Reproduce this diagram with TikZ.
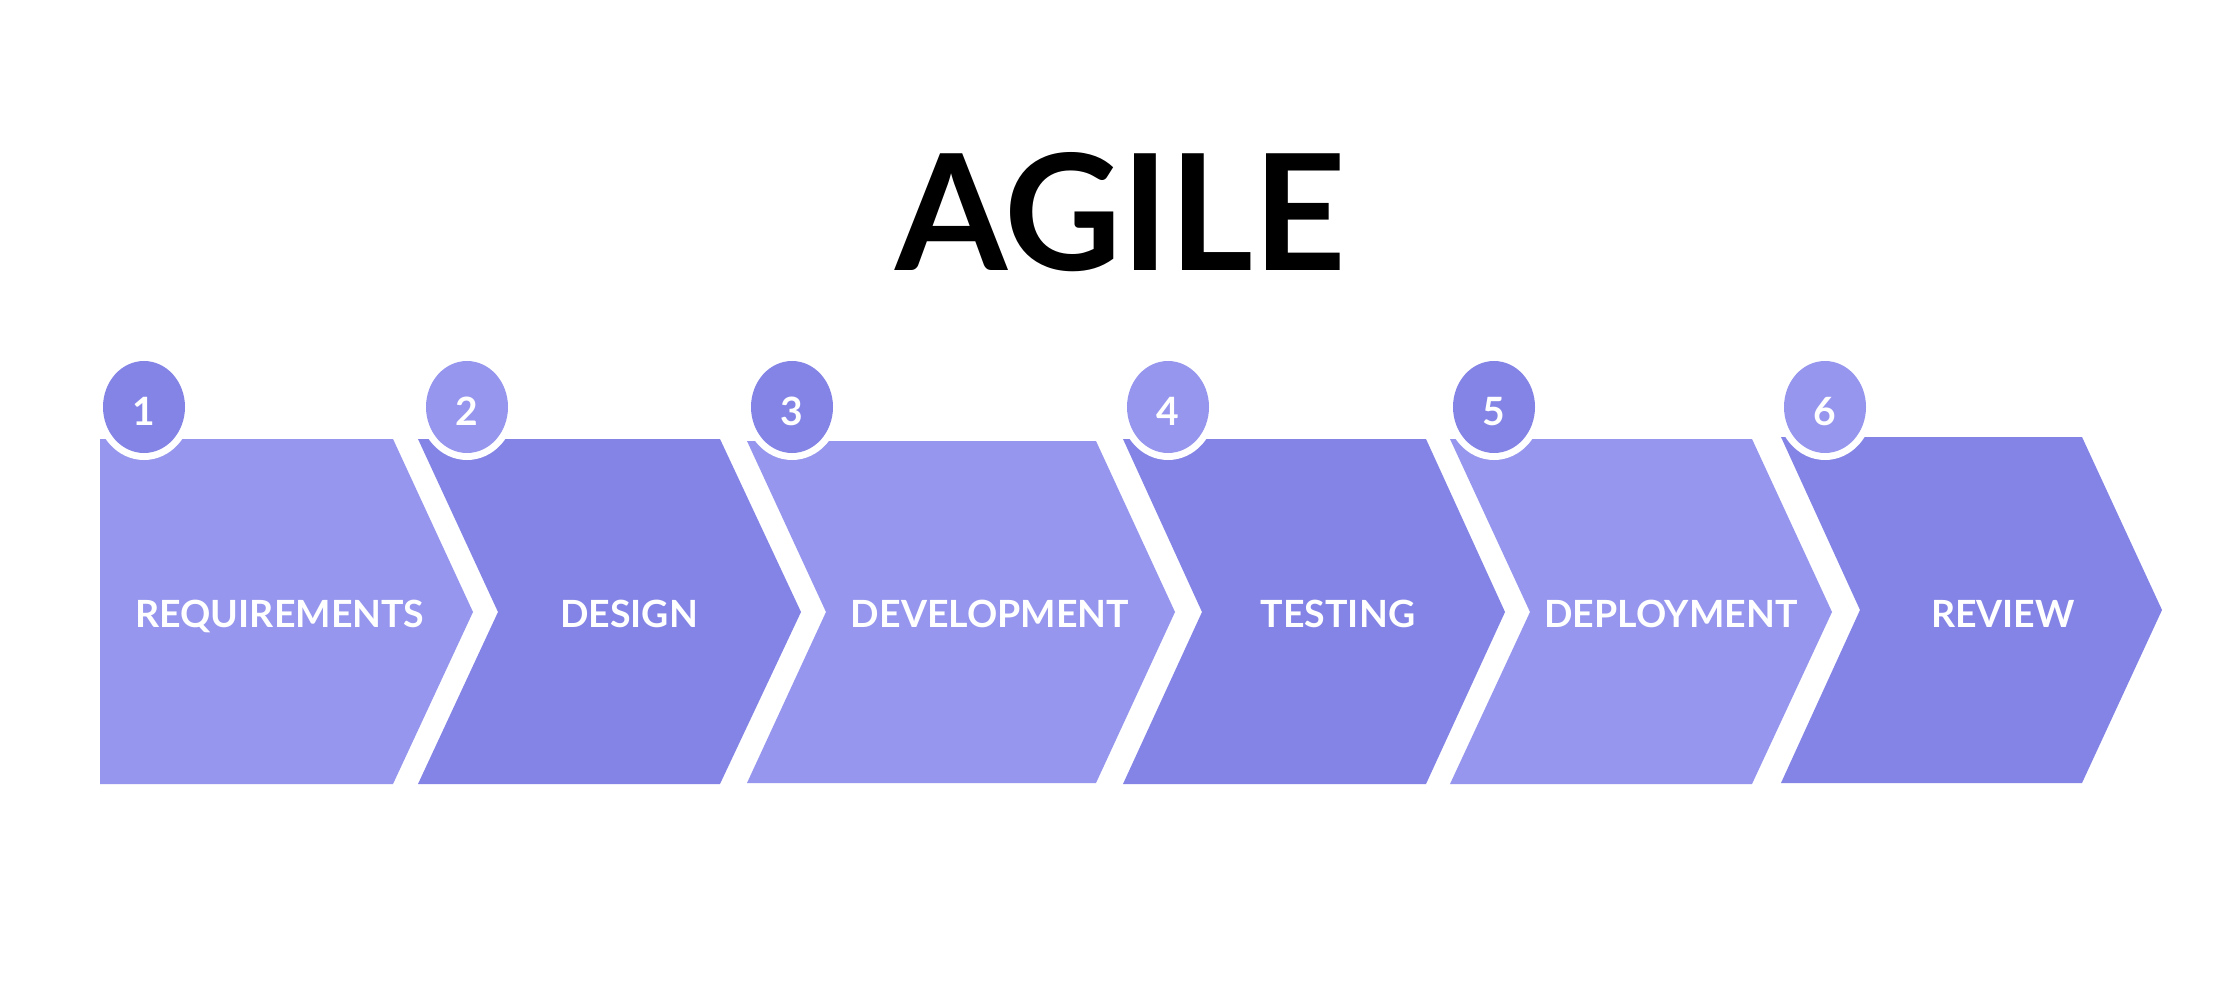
\documentclass[tikz,border=0pt]{standalone}
\usepackage{fontspec}
\setmainfont{Lato}
\definecolor{lightv}{HTML}{9696EE}
\definecolor{darkv}{HTML}{8484E6}
\begin{document}
\begin{tikzpicture}[x=1pt,y=-1pt,
  stagelabel/.style={text=white,font=\fontsize{37.5}{41}\selectfont\bfseries,anchor=base,inner sep=0pt},
  numlabel/.style={text=white,font=\fontsize{39}{43}\selectfont\bfseries,anchor=base,inner sep=0pt},
  ring/.style={fill=white},
]
\useasboundingbox (0,0) rectangle (2239,1008);
\fill[white] (0,0) rectangle (2239,1008);

% title
\node[font=\fontsize{161.5}{170}\selectfont\bfseries,anchor=base,inner sep=0pt] (title) at (1121,271) {AGILE};

% chevron shapes
\fill[lightv] (100,439) -- (393,439) -- (473,612) -- (393,784) -- (100,784) -- cycle;
\fill[darkv] (418,439) -- (720,439) -- (801,612) -- (720,784) -- (418,784) -- (498,612) -- cycle;
\fill[lightv] (747,441) -- (1096,441) -- (1175,612) -- (1096,783) -- (747,783) -- (826,612) -- cycle;
\fill[darkv] (1123,439) -- (1426,439) -- (1505,612) -- (1426,784) -- (1123,784) -- (1202,612) -- cycle;
\fill[lightv] (1450,439) -- (1752,439) -- (1832,612) -- (1752,784) -- (1450,784) -- (1530,612) -- cycle;
\fill[darkv] (1781,437) -- (2082,437) -- (2162,610) -- (2082,783) -- (1781,783) -- (1860,610) -- cycle;

% number circles
\foreach \cx/\col in {144/darkv,467/lightv,792/darkv,1168/lightv,1494/darkv,1825/lightv}{
  \fill[ring] (\cx,407) ellipse [x radius=48, y radius=53];
  \fill[\col] (\cx,407) ellipse [x radius=41, y radius=46];
}
\node[numlabel] (n1) at (144,425) {1};
\node[numlabel] (n2) at (467,425) {2};
\node[numlabel] (n3) at (792,425) {3};
\node[numlabel] (n4) at (1168,425) {4};
\node[numlabel] (n5) at (1494,425) {5};
\node[numlabel] (n6) at (1825,425) {6};

% stage labels
\node[stagelabel] (s1) at (280,627) {REQUIREMENTS};
\node[stagelabel] (s2) at (629,627) {DESIGN};
\node[stagelabel] (s3) at (990,627) {DEVELOPMENT};
\node[stagelabel] (s4) at (1338,627) {TESTING};
\node[stagelabel] (s5) at (1671,627) {DEPLOYMENT};
\node[stagelabel] (s6) at (2003,627) {REVIEW};
\end{tikzpicture}
\end{document}
